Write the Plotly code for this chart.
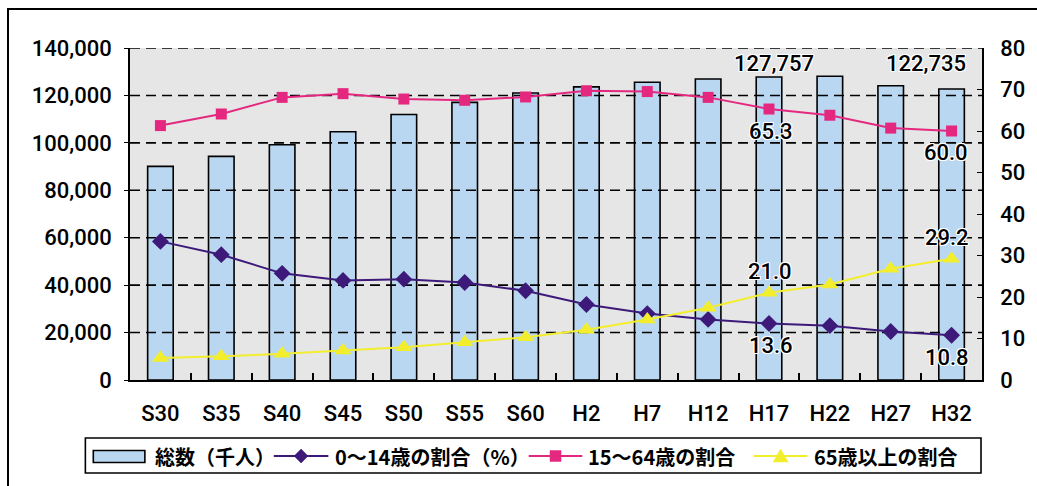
import plotly.graph_objects as go

# 年次区分
categories = ["S30", "S35", "S40", "S45", "S50", "S55", "S60",
              "H2", "H7", "H12", "H17", "H22", "H27", "H32"]

# 総人口（千人）
total_pop = [90077, 94302, 99209, 104665, 111940, 117060, 121049,
             123611, 125570, 126926, 127757, 128057, 124100, 122735]

# 年齢区分別割合（%）
pct_0_14 = [33.4, 30.2, 25.7, 24.0, 24.3, 23.5, 21.5,
            18.2, 16.0, 14.6, 13.6, 13.1, 11.7, 10.8]
pct_15_64 = [61.3, 64.1, 68.1, 69.0, 67.7, 67.4, 68.2,
             69.7, 69.5, 68.1, 65.3, 63.8, 60.7, 60.0]
pct_65 = [5.3, 5.7, 6.3, 7.1, 7.9, 9.1, 10.3,
          12.1, 14.6, 17.4, 21.0, 23.0, 26.8, 29.2]

# 軸目盛
left_ticks = [0, 20000, 40000, 60000, 80000, 100000, 120000, 140000]
right_ticks = [0, 10, 20, 30, 40, 50, 60, 70, 80]

names = ["総数（千人）", "0〜14歳の割合（%）", "15〜64歳の割合", "65歳以上の割合"]

colors = {
    "bar": "#b9d7f1",
    "young": "#3d1a7a",
    "work": "#e5287f",
    "old": "#f2ee2e",
}

W, H = 1037, 486
ML, MR, MT, MB = 130, 48, 48, 106
PW, PH = W - ML - MR, H - MT - MB

xs = list(range(len(categories)))
num_font = "Roboto"
num_size = 22
jp_font = "Noto Sans CJK JP"

fig = go.Figure()

fig.add_trace(go.Bar(
    x=xs, y=total_pop, name=names[0], width=0.42,
    marker=dict(color=colors["bar"], line=dict(color="#000000", width=1.6)),
    yaxis="y", xaxis="x",
))

# 破線グリッド（棒の上、折れ線の下に描く）
gx, gy = [], []
for v in left_ticks[1:]:
    gx += [-0.5, 13.5, None]
    gy += [v, v, None]
fig.add_trace(go.Scatter(
    x=gx, y=gy, mode="lines", showlegend=False, hoverinfo="skip",
    line=dict(color="#000000", width=1.6, dash="10px,6px"),
    yaxis="y", xaxis="x",
))

fig.add_trace(go.Scatter(
    x=xs, y=pct_0_14, name=names[1], mode="lines+markers",
    line=dict(color=colors["young"], width=2),
    marker=dict(symbol="diamond", size=13, color=colors["young"]),
    yaxis="y2", xaxis="x",
))
fig.add_trace(go.Scatter(
    x=xs, y=pct_15_64, name=names[2], mode="lines+markers",
    line=dict(color=colors["work"], width=2),
    marker=dict(symbol="square", size=11, color=colors["work"]),
    yaxis="y2", xaxis="x",
))
fig.add_trace(go.Scatter(
    x=xs, y=pct_65, name=names[3], mode="lines+markers",
    line=dict(color=colors["old"], width=2),
    marker=dict(symbol="triangle-up", size=15, color=colors["old"]),
    yaxis="y2", xaxis="x",
))

halo = ("1px 1px 0 #fff, -1px -1px 0 #fff, 1px -1px 0 #fff, -1px 1px 0 #fff, "
        "0 1px 0 #fff, 0 -1px 0 #fff, 1px 0 0 #fff, -1px 0 0 #fff")


def label(i, value, yref, text, xshift, yshift):
    fig.add_annotation(
        x=xs[i], y=value, xref="x", yref=yref, text=text, showarrow=False,
        xshift=xshift, yshift=yshift,
        font=dict(family=num_font, size=num_size, weight=500,
                  color="#000000", shadow=halo),
    )


i17 = categories.index("H17")
i32 = categories.index("H32")
label(i17, total_pop[i17], "y", f"{total_pop[i17]:,}", 5, 14)
label(i32, total_pop[i32], "y", f"{total_pop[i32]:,}", -26, 25)
label(i17, pct_15_64[i17], "y2", f"{pct_15_64[i17]:.1f}", 2, -22)
label(i32, pct_15_64[i32], "y2", f"{pct_15_64[i32]:.1f}", -6, -21)
label(i17, pct_65[i17], "y2", f"{pct_65[i17]:.1f}", 1, 21)
label(i32, pct_65[i32], "y2", f"{pct_65[i32]:.1f}", -5, 21)
label(i17, pct_0_14[i17], "y2", f"{pct_0_14[i17]:.1f}", 2, -22)
label(i32, pct_0_14[i32], "y2", f"{pct_0_14[i32]:.1f}", -5, -22)


# ---- 凡例（枠・記号・文字）----
def px(x):
    return (x - ML) / PW


def py(y):
    return (H - MB - y) / PH


# 外枠
fig.add_shape(type="rect", xref="paper", yref="paper",
              x0=px(7), x1=px(1060), y0=py(520), y1=py(9),
              line=dict(color="#000000", width=2), layer="below")

# 凡例枠
fig.add_shape(type="rect", xref="paper", yref="paper",
              x0=px(85), x1=px(988), y0=py(473), y1=py(438),
              line=dict(color="#000000", width=1.6), fillcolor="#ffffff")

LEG_Y = 456
# 総数（棒）
fig.add_shape(type="rect", xref="paper", yref="paper",
              x0=px(93), x1=px(145), y0=py(462.5), y1=py(450.5),
              line=dict(color="#000000", width=1.6), fillcolor=colors["bar"])

legend_lines = [
    (275, 330, colors["young"], "diamond"),
    (532, 586, colors["work"], "square"),
    (759, 813, colors["old"], "triangle"),
]
symbol_paths = {
    "diamond": "M0,7 L7,0 L0,-7 L-7,0 Z",
    "square": "M-5.5,-5.5 L5.5,-5.5 L5.5,5.5 L-5.5,5.5 Z",
    "triangle": "M0,7 L7.5,-6 L-7.5,-6 Z",
}
for x0, x1, col, sym in legend_lines:
    fig.add_shape(type="line", xref="paper", yref="paper",
                  x0=px(x0), x1=px(x1), y0=py(LEG_Y), y1=py(LEG_Y),
                  line=dict(color=col, width=2))
    fig.add_shape(type="path", xref="paper", yref="paper",
                  xsizemode="pixel", ysizemode="pixel",
                  xanchor=px((x0 + x1) / 2), yanchor=py(LEG_Y),
                  path=symbol_paths[sym], fillcolor=col,
                  line=dict(color=col, width=0.5))

legend_text_x = [153, 335, 590, 818]
for tx, name in zip(legend_text_x, names):
    fig.add_annotation(
        x=px(tx), y=py(LEG_Y), xref="paper", yref="paper", text=name,
        showarrow=False, xanchor="left", yanchor="middle",
        font=dict(family=jp_font, size=20, weight="bold", color="#000000"),
    )

fig.update_layout(
    width=W, height=H,
    margin=dict(l=ML, r=MR, t=MT, b=MB),
    paper_bgcolor="#ffffff",
    plot_bgcolor="#e6e6e6",
    font=dict(family=num_font, size=num_size, color="#000000"),
    bargap=0.58,
    showlegend=False,
    xaxis=dict(
        range=[-0.5, 13.5], tickvals=xs, ticktext=categories,
        showgrid=False, zeroline=False, showline=True,
        linecolor="#000000", linewidth=1.6, ticks="",
        minor=dict(tickvals=[v + 0.5 for v in xs[:-1]], ticks="inside",
                   ticklen=7, tickcolor="#000000", tickwidth=1.5,
                   showgrid=False),
        ticklabelstandoff=13,
        tickfont=dict(family=num_font, size=num_size, weight=500),
        fixedrange=True,
    ),
    yaxis=dict(
        range=[0, 140000], tickvals=left_ticks, tickformat=",d",
        showgrid=False, zeroline=False, showline=True,
        linecolor="#000000", linewidth=1.6,
        ticks="outside", ticklen=4, tickcolor="#000000",
        ticklabelstandoff=8,
        tickfont=dict(family=num_font, size=num_size, weight=500),
    ),
    yaxis2=dict(
        range=[0, 80], tickvals=right_ticks, overlaying="y", side="right",
        showgrid=False, zeroline=False, showline=True,
        linecolor="#000000", linewidth=1.6,
        ticks="inside", ticklen=5, tickcolor="#000000",
        ticklabelstandoff=12,
        tickfont=dict(family=num_font, size=num_size, weight=500),
    ),
)

fig.write_html("out.html")
